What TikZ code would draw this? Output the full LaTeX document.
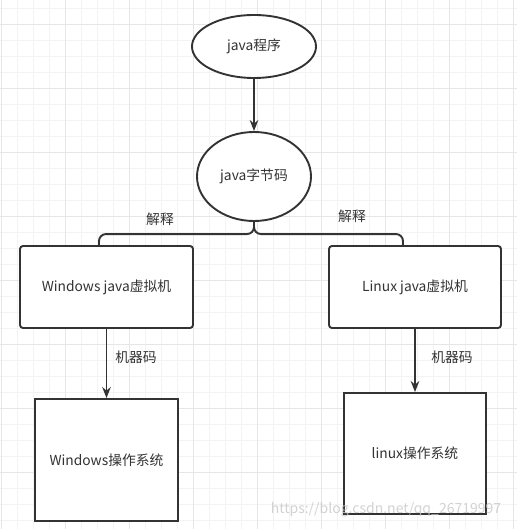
\documentclass[tikz,border=0pt]{standalone}
\usepackage{fontspec}
\setmainfont{Noto Sans CJK SC}
\usetikzlibrary{shapes.geometric,arrows.meta}
\definecolor{ink}{HTML}{333333}
\definecolor{gridminor}{HTML}{F3F3F3}
\definecolor{gridmajor}{HTML}{E6E6E6}
\begin{document}
\begin{tikzpicture}[x=1pt,y=-1pt,
  every node/.style={text=ink,font=\fontsize{13.8}{15}\selectfont},
  line/.style={line width=1.9pt,draw=ink},
  oval/.style={ellipse,line,fill=white,inner sep=0pt},
  jvmbox/.style={rectangle,rounded corners=3pt,line,fill=white,inner sep=0pt},
  osbox/.style={rectangle,line,fill=white,inner sep=0pt},
  tag/.style={inner sep=0pt},
  arrow/.style={line,-{Stealth[length=11pt,width=8.5pt]}}]
\fill[white] (0,0) rectangle (517,529);
\useasboundingbox (0,0) rectangle (517,529);
\foreach \gx in {1,17,...,517} \draw[gridminor,line width=1pt] (\gx,0) -- (\gx,529);
\foreach \gy in {8.5,24.5,...,529} \draw[gridminor,line width=1pt] (0,\gy) -- (517,\gy);
\foreach \gx in {1,65,...,517} \draw[gridmajor,line width=1pt] (\gx,0) -- (\gx,529);
\foreach \gy in {24.5,88.5,...,529} \draw[gridmajor,line width=1pt] (0,\gy) -- (517,\gy);
\node[oval,minimum width=124pt,minimum height=63pt] (prog) at (254,46.5) {java程序};
\node[oval,minimum width=114pt,minimum height=89pt] (bytecode) at (254,176.5) {java字节码};
\node[jvmbox,minimum width=173pt,minimum height=82pt] (winjvm) at (106.5,287) {Windows java虚拟机};
\node[jvmbox,minimum width=172pt,minimum height=82pt] (linjvm) at (415,287) {Linux java虚拟机};
\node[osbox,minimum width=143pt,minimum height=122pt] (winos) at (106.5,460) {Windows操作系统};
\node[osbox,minimum width=142pt,minimum height=121pt] (linos) at (415,453.5) {linux操作系统};
\coordinate (winin) at ([xshift=-7.5pt]winjvm.north);
\coordinate (linin) at ([xshift=-12pt]linjvm.north);
\draw[arrow] (prog) to (bytecode);
\draw[line,rounded corners=7pt] (bytecode.south) |- ([yshift=11pt]winin) -- (winin);
\draw[line,rounded corners=7pt] (bytecode.south) |- ([yshift=11pt]linin) -- (linin);
\draw[arrow] (winjvm) to (winos);
\draw[arrow] (linjvm) to (linos);
\node[tag] (explainl) at (160,219) {解释};
\node[tag] (explainr) at (352,216) {解释};
\node[tag] (codel) at (136,357) {机器码};
\node[tag] (coder) at (452,357) {机器码};
\node[tag,text=black!22,opacity=0.8,font=\fontsize{14}{15}\selectfont] (watermark) at (386,510) {https://blog.csdn.net/qq\_26719997};
\end{tikzpicture}
\end{document}
